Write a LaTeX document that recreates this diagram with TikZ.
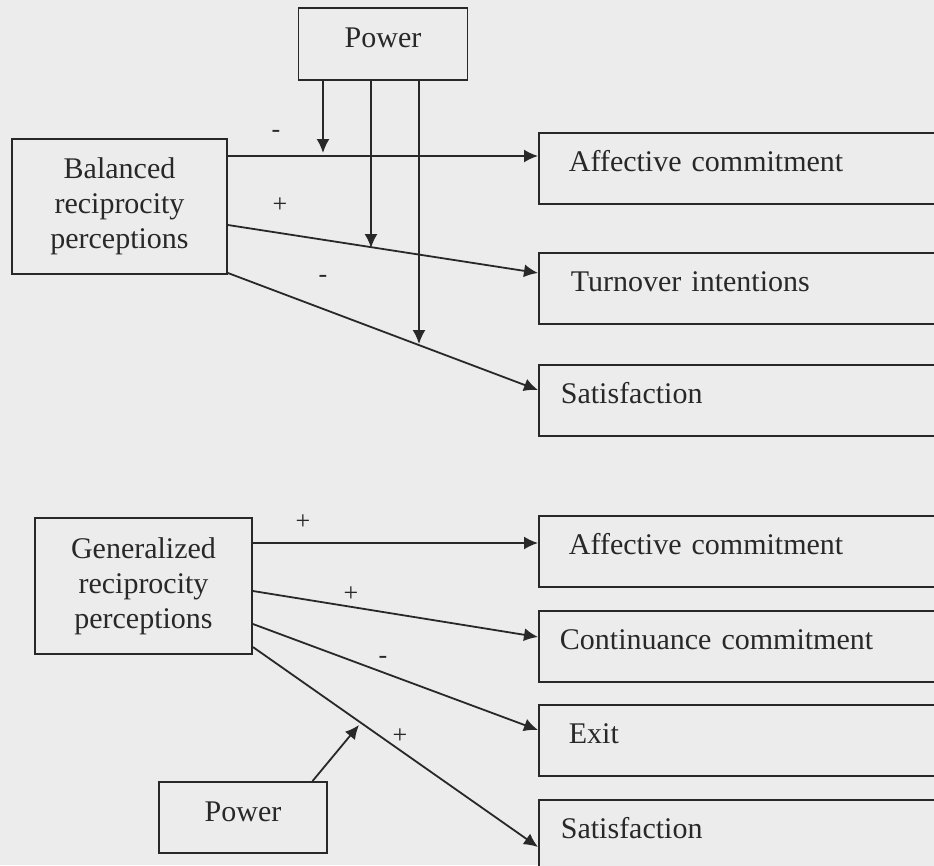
\documentclass[tikz,border=0pt]{standalone}
\usepackage{fontspec}
\setmainfont{Liberation Serif}
\usetikzlibrary{arrows.meta,calc}
\definecolor{bg}{RGB}{236,236,236}
\definecolor{ink}{RGB}{40,40,40}
\tikzset{
  lbox/.style={draw=ink, line width=1.8pt, fill=bg, align=center, inner sep=0pt,
    font=\fontsize{30}{35}\selectfont, text=ink},
  rbox/.style={draw=ink, line width=1.8pt, fill=bg, anchor=north west, inner ysep=0pt,
    minimum width=430pt, minimum height=71pt, align=left, text height=21pt, text depth=14pt,
    font=\fontsize{30}{35}\selectfont, text=ink},
  conn/.style={draw=ink, line width=1.8pt, -{Latex[length=14pt,width=13pt]}},
  sign/.style={font=\fontsize{26}{30}\selectfont, text=ink, inner sep=0pt}
}
\begin{document}
\begin{tikzpicture}[x=1pt,y=-1pt]
\useasboundingbox (0,0) rectangle (934,865);
\fill[bg] (0,0) rectangle (934,865);
\clip (0,0) rectangle (934,865);
% top group
\node[lbox, minimum width=169pt, minimum height=72pt, text height=21pt, text depth=14pt] (powT) at (383,44) {Power};
\node[lbox, minimum width=215pt, minimum height=135pt] (bal) at (119.5,206.5) {Balanced\\reciprocity\\perceptions};
\node[rbox, inner xsep=30pt, text width=370pt] (ac1) at (538,132) {Affective commitment};
\node[rbox, inner xsep=32pt, text width=366pt] (tu) at (538,252) {Turnover intentions};
\node[rbox, inner xsep=22pt, text width=386pt] (sa1) at (538,364) {Satisfaction};
\draw[conn] (bal.east |- 0,156) -- (ac1.west |- 0,156);
\draw[conn] (bal.east |- 0,225) -- (tu.west |- 0,273);
\draw[conn] (bal.east |- 0,273) -- (sa1.west |- 0,390);
\coordinate (m1) at (323,153);
\coordinate (m2) at (371,248);
\coordinate (m3) at (419,344);
\draw[conn] (powT.south -| m1) -- (m1);
\draw[conn] (powT.south -| m2) -- (m2);
\draw[conn] (powT.south -| m3) -- (m3);
\node[sign] (s1) at (276,134) {-};
\node[sign] (s2) at (280,205) {+};
\node[sign] (s3) at (323,279) {-};
% bottom group
\node[lbox, minimum width=217pt, minimum height=136pt] (gen) at (143.5,586) {Generalized\\reciprocity\\perceptions};
\node[rbox, inner xsep=30pt, text width=370pt] (ac2) at (538,515) {Affective commitment};
\node[rbox, inner xsep=21pt, text width=388pt] (co) at (538,610) {Continuance commitment};
\node[rbox, inner xsep=30pt, text width=370pt] (ex) at (538,704) {Exit};
\node[rbox, inner xsep=22pt, text width=386pt] (sa2) at (538,799) {Satisfaction};
\node[lbox, minimum width=168pt, minimum height=71pt, text height=21pt, text depth=14pt] (powB) at (243,817.5) {Power};
\draw[conn] (gen.east |- 0,543) -- (ac2.west |- 0,543);
\draw[conn] (gen.east |- 0,591) -- (co.west |- 0,637);
\draw[conn] (gen.east |- 0,624) -- (ex.west |- 0,730);
\draw[conn] (gen.east |- 0,647) -- (sa2.west |- 0,847);
\coordinate (m4) at (359,725);
\draw[conn] (powB.north -| 312.5,0) -- (m4);
\node[sign] (s4) at (303,522) {+};
\node[sign] (s5) at (351,594) {+};
\node[sign] (s6) at (383,660) {-};
\node[sign] (s7) at (400,736) {+};
\end{tikzpicture}
\end{document}
